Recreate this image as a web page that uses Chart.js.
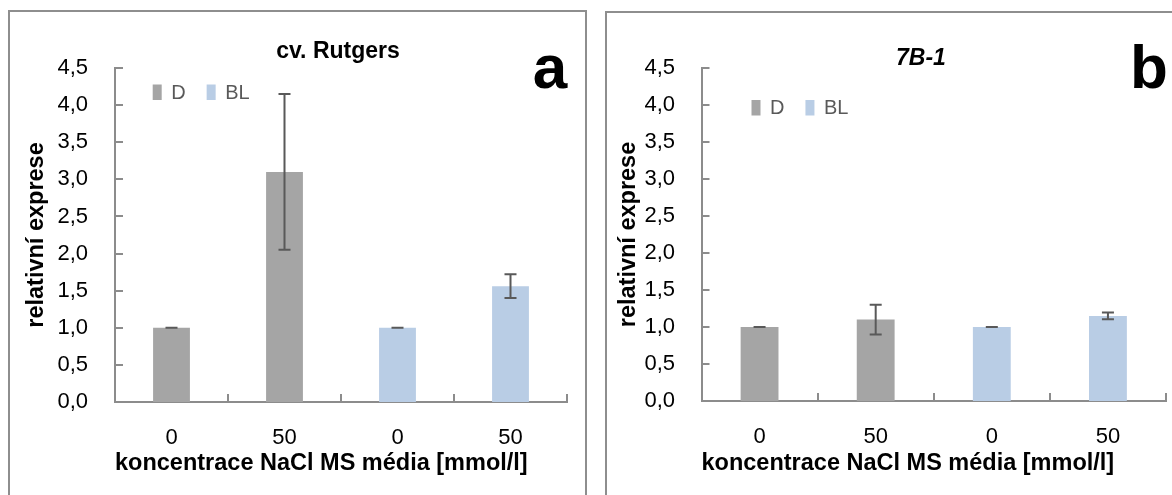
<!DOCTYPE html>
<html>
<head>
<meta charset="utf-8">
<script src="https://cdn.jsdelivr.net/npm/chart.js@4.4.1/dist/chart.umd.min.js"></script>
<style>
  html, body { margin: 0; padding: 0; background: #ffffff; }
  body { width: 1172px; height: 495px; position: relative; overflow: hidden; font-family: 'Liberation Sans', Arial, sans-serif; }
  canvas { position: absolute; top: 0; }
  .frame { position: absolute; border: 2px solid #8e8e8e; box-sizing: border-box; pointer-events: none; }
  .txt { position: absolute; color: #000; white-space: nowrap; text-align: center; line-height: 1.2; }
</style>
</head>
<body>
<canvas id="chartA" width="590" height="495" style="left:0px"></canvas>
<canvas id="chartB" width="582" height="495" style="left:590px"></canvas>
<div class="frame" style="left:8px; top:10px; width:579px; height:500px;"></div>
<div class="frame" style="left:605px; top:11px; width:580px; height:500px;"></div>
<div class="txt" style="left:238px; top:37px; width:200px; font-size:23px; font-weight:700;">cv. Rutgers</div>
<div class="txt" style="left:821px; top:44px; width:200px; font-size:23px; font-weight:700; font-style:italic;">7B-1</div>
<div class="txt" style="left:510px; top:30px; width:80px; font-size:62px; font-weight:700;">a</div>
<div class="txt" style="left:1109px; top:30px; width:80px; font-size:62px; font-weight:700;">b</div>
<script>
// ---- data ----
const categories = ['0', '50', '0', '50'];
const seriesNames = ['D', 'BL'];
const yTickValues = [0, 0.5, 1, 1.5, 2, 2.5, 3, 3.5, 4, 4.5];
const xAxisTitle = 'koncentrace NaCl MS média [mmol/l]';
const yAxisTitle = 'relativní exprese';

// panel a: cv. Rutgers
const rutgersD = [1.00, 3.10, null, null];
const rutgersDErr = [0.00, 1.05, null, null];
const rutgersBL = [null, null, 1.00, 1.56];
const rutgersBLErr = [null, null, 0.00, 0.16];

// panel b: 7B-1
const b71D = [1.00, 1.10, null, null];
const b71DErr = [0.00, 0.20, null, null];
const b71BL = [null, null, 1.00, 1.15];
const b71BLErr = [null, null, 0.00, 0.045];

const colorD = '#a5a5a5';
const colorBL = '#b9cde5';
const axisColor = '#8c8c8c';
const FONT = "'Liberation Sans', Arial, sans-serif";

const errorBarPlugin = {
  id: 'errorBars',
  afterDatasetsDraw(chart, args, opts) {
    const ctx = chart.ctx;
    const ys = chart.scales.y;
    chart.data.datasets.forEach((ds, di) => {
      const meta = chart.getDatasetMeta(di);
      meta.data.forEach((bar, i) => {
        const v = ds.data[i];
        const e = ds.errors ? ds.errors[i] : null;
        if (v == null || e == null) return;
        const yt = ys.getPixelForValue(v + e);
        const yb = ys.getPixelForValue(v - e);
        const c = opts.cap / 2;
        ctx.save();
        ctx.strokeStyle = opts.color;
        ctx.lineWidth = opts.width;
        ctx.beginPath();
        ctx.moveTo(bar.x, yt); ctx.lineTo(bar.x, yb);
        ctx.moveTo(bar.x - c, yt); ctx.lineTo(bar.x + c, yt);
        ctx.moveTo(bar.x - c, yb); ctx.lineTo(bar.x + c, yb);
        ctx.stroke();
        ctx.restore();
      });
    });
  }
};

const innerTicksPlugin = {
  id: 'innerTicks',
  afterDatasetsDraw(chart, args, opts) {
    const ctx = chart.ctx;
    const xs = chart.scales.x, ys = chart.scales.y;
    const area = chart.chartArea;
    ctx.save();
    ctx.strokeStyle = opts.color;
    ctx.lineWidth = opts.width;
    ctx.beginPath();
    ys.ticks.forEach(t => {
      const py = Math.round(ys.getPixelForValue(t.value));
      ctx.moveTo(area.left, py); ctx.lineTo(area.left + opts.length, py);
    });
    const n = chart.data.labels.length;
    for (let i = 0; i <= n; i++) {
      const px = Math.round(xs.getPixelForValue(i - 0.5));
      ctx.moveTo(px, area.bottom); ctx.lineTo(px, area.bottom - opts.length);
    }
    ctx.stroke();
    ctx.restore();
  }
};

const insideLegendPlugin = {
  id: 'insideLegend',
  afterDatasetsDraw(chart, args, opts) {
    const ctx = chart.ctx, area = chart.chartArea;
    let x = area.left + opts.x;
    const y = area.top + opts.y;
    ctx.save();
    ctx.font = opts.font;
    ctx.textBaseline = 'middle';
    ctx.textAlign = 'left';
    chart.data.datasets.forEach(ds => {
      ctx.fillStyle = ds.backgroundColor;
      ctx.fillRect(x, y, opts.boxWidth, opts.boxHeight);
      const tx = x + opts.boxWidth + opts.textGap;
      ctx.fillStyle = opts.color;
      ctx.fillText(ds.label, tx, y + opts.boxHeight / 2 + 1);
      x = tx + ctx.measureText(ds.label).width + opts.itemGap;
    });
    ctx.restore();
  }
};

function makeChart(id, dVals, dErr, blVals, blErr, geo) {
  return new Chart(document.getElementById(id), {
    type: 'bar',
    data: {
      labels: categories,
      datasets: [
        { label: seriesNames[0], data: dVals, errors: dErr, backgroundColor: colorD, borderWidth: 0,
          grouped: false, barPercentage: 0.326, categoryPercentage: 1.0 },
        { label: seriesNames[1], data: blVals, errors: blErr, backgroundColor: colorBL, borderWidth: 0,
          grouped: false, barPercentage: 0.326, categoryPercentage: 1.0 }
      ]
    },
    options: {
      responsive: false,
      animation: false,
      devicePixelRatio: 1,
      layout: { padding: { top: geo.top, right: geo.right, bottom: 0, left: 0 } },
      plugins: {
        legend: { display: false },
        tooltip: { enabled: false },
        errorBars: { color: '#595959', width: 2, cap: 12 },
        innerTicks: { color: axisColor, width: 2, length: 8 },
        insideLegend: { x: geo.legX, y: geo.legY, boxWidth: 9, boxHeight: 15.5, textGap: 9.5, itemGap: 21,
                        color: '#595959', font: "20px 'Liberation Sans Narrow', 'Liberation Sans', sans-serif" }
      },
      scales: {
        x: {
          type: 'category',
          offset: true,
          grid: { display: false, drawTicks: false, tickLength: 0 },
          border: { display: true, color: axisColor, width: 2 },
          ticks: { color: '#000', padding: 23, font: { family: FONT, size: 22 } },
          title: { display: true, text: xAxisTitle, color: '#000', align: 'start',
                   font: { family: FONT, size: 23.5, weight: 'bold' },
                   padding: { top: 0, bottom: geo.xTitlePad } },
          afterFit(s) { s.height = geo.xHeight; }
        },
        y: {
          min: 0, max: 4.5,
          afterBuildTicks(s) { s.ticks = yTickValues.map(v => ({ value: v })); },
          grid: { display: false, drawTicks: false, tickLength: 0 },
          border: { display: true, color: axisColor, width: 2 },
          ticks: { color: '#000', padding: geo.yTickPad, font: { family: FONT, size: 22 },
                   callback: v => Number(v).toFixed(1).replace('.', ',') },
          title: { display: true, text: yAxisTitle, color: '#000',
                   font: { family: FONT, size: 23.5, weight: 'bold' },
                   padding: { top: geo.yTitlePad, bottom: 0 } },
          afterFit(s) { s.width = geo.yWidth; }
        }
      }
    },
    plugins: [errorBarPlugin, innerTicksPlugin, insideLegendPlugin]
  });
}

function draw() {
  makeChart('chartA', rutgersD, rutgersDErr, rutgersBL, rutgersBLErr,
    { top: 68, right: 23, yWidth: 115, xHeight: 93, xTitlePad: 17, yTitlePad: 22, yTickPad: 27,
      legX: 37.7, legY: 16.5 });
  makeChart('chartB', b71D, b71DErr, b71BL, b71BLErr,
    { top: 68, right: 6, yWidth: 111.5, xHeight: 94, xTitlePad: 17, yTitlePad: 24, yTickPad: 26.5,
      legX: 50, legY: 32 });
}

Promise.all([
  document.fonts.load("22px 'Liberation Sans'"),
  document.fonts.load("bold 23px 'Liberation Sans'"),
  document.fonts.load("20px 'Liberation Sans Narrow'")
]).then(draw, draw);
</script>
</body>
</html>
